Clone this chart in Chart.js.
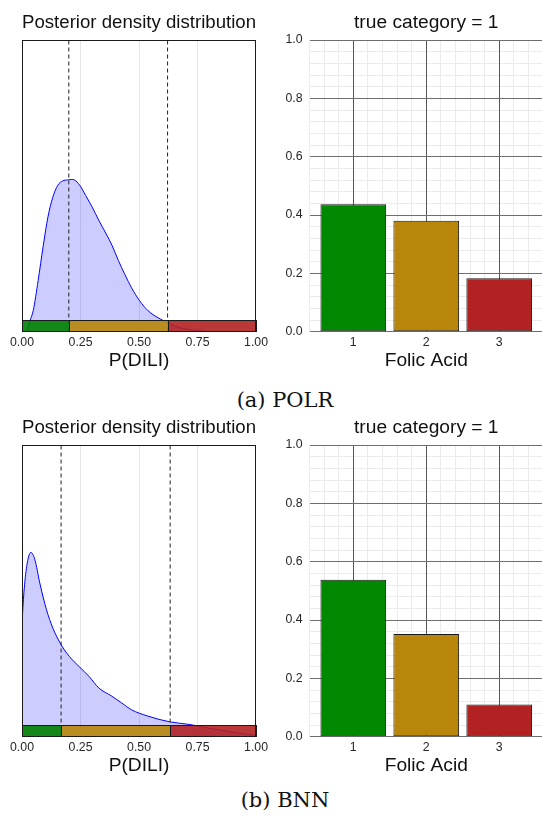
<!DOCTYPE html>
<html>
<head>
<meta charset="utf-8">
<script src="https://cdn.jsdelivr.net/npm/chart.js@4/dist/chart.umd.min.js"></script>
<style>
  html, body { margin: 0; padding: 0; background: #fff; width: 542px; height: 818px; overflow: hidden; }
  .panel { position: absolute; }
  .panel canvas { display: block; }
  .cap {
    position: absolute; left: 285px; transform: translateX(-50%);
    white-space: nowrap; font-family: "DejaVu Serif", serif; font-size: 21px;
    line-height: 24px; color: #111;
  }
</style>
</head>
<body>
<div class="panel" style="left:0;top:0"><canvas id="densPolr" width="272" height="380"></canvas></div>
<div class="panel" style="left:271px;top:0"><canvas id="probPolr" width="272" height="380"></canvas></div>
<div class="cap" style="top:388px">(a) POLR</div>
<div class="panel" style="left:0;top:405px"><canvas id="densBnn" width="272" height="380"></canvas></div>
<div class="panel" style="left:271px;top:405px"><canvas id="probBnn" width="272" height="380"></canvas></div>
<div class="cap" style="top:788px">(b) BNN</div>

<script>
// ---- data ----
const scoreTicks = [0, 0.25, 0.5, 0.75, 1];
const probTicks = [0, 0.2, 0.4, 0.6, 0.8, 1.0];
const categories = ['1', '2', '3'];
const drugName = 'Folic Acid';
const trueCategory = 1;

// POLR posterior density of P(DILI)
const polrX = [0.020, 0.034, 0.048, 0.069, 0.090, 0.111, 0.132, 0.153, 0.174, 0.195, 0.213, 0.230,
               0.251, 0.272, 0.300, 0.328, 0.363, 0.384, 0.412, 0.440, 0.468, 0.503, 0.538, 0.590,
               0.650, 0.700, 0.750, 0.800];
const polrY = [0.00, 0.22, 0.43, 1.05, 1.74, 2.36, 2.77, 3.01, 3.10, 3.12, 3.13, 3.10,
               2.98, 2.80, 2.56, 2.29, 1.98, 1.78, 1.46, 1.17, 0.90, 0.63, 0.43, 0.26,
               0.12, 0.05, 0.02, 0.00];
const polrCuts = [0.200, 0.622];
const polrProbs = [0.437, 0.380, 0.183];

// BNN posterior density of P(DILI)
const bnnX = [0.000, 0.008, 0.020, 0.038, 0.055, 0.076, 0.104, 0.132, 0.167, 0.202, 0.244, 0.286,
              0.328, 0.384, 0.426, 0.468, 0.538, 0.633, 0.713, 0.800, 0.900, 1.000];
const bnnY = [2.34, 2.95, 3.50, 3.79, 3.64, 3.16, 2.62, 2.23, 1.89, 1.65, 1.44, 1.24,
              1.00, 0.83, 0.69, 0.55, 0.42, 0.30, 0.25, 0.17, 0.09, 0.02];
const bnnCuts = [0.167, 0.633];
const bnnProbs = [0.538, 0.352, 0.110];

// ---- styling ----
const FONT = 'Liberation Sans, Arial, sans-serif';
const TITLE_SIZE = 19.2;
const INK = '#111111';
const TICK_INK = '#262626';
const DENS_MAX = 6;
const BAND_H = 11.5;
const BAND_COLORS = ['rgba(0,128,0,0.9)', 'rgba(184,134,11,0.9)', 'rgba(178,34,34,0.9)'];
const BAR_COLORS = ['#008800', '#B8860B', '#B22222'];

// coloured risk band along the bottom of the density panel, plus panel frame
const riskBand = {
  id: 'riskBand',
  afterDatasetsDraw(chart, args, opts) {
    const { ctx, chartArea: a, scales: { x } } = chart;
    const b = opts.bounds;
    if (!b) return;
    ctx.save();
    ctx.lineWidth = 1;
    ctx.strokeStyle = '#1a1a1a';
    for (let i = 0; i < b.length - 1; i++) {
      const x0 = Math.round(x.getPixelForValue(b[i])) + 0.5;
      const x1 = Math.round(x.getPixelForValue(b[i + 1])) + 0.5;
      const y0 = Math.round(a.bottom - BAND_H) + 0.5;
      const y1 = Math.round(a.bottom) - 0.5;
      ctx.fillStyle = BAND_COLORS[i];
      ctx.fillRect(x0, y0, x1 - x0, y1 - y0);
      ctx.strokeRect(x0, y0, x1 - x0, y1 - y0);
    }
    const l = Math.round(a.left) + 0.5, t = Math.round(a.top) + 0.5;
    const r = Math.round(a.right) - 0.5, bt = Math.round(a.bottom) - 0.5;
    ctx.strokeRect(l, t, r - l, bt - t);
    ctx.restore();
  }
};

function titleOpts(text) {
  return {
    display: true, text, fullSize: false, color: INK,
    font: { family: FONT, size: TITLE_SIZE, weight: 'normal', lineHeight: 1.2 },
    padding: { top: 11.5, bottom: 5.46 }
  };
}

function densityChart(id, xs, ys, cuts) {
  const pts = xs.map((x, i) => ({ x, y: ys[i] }));
  const datasets = [{
    type: 'line', data: pts, order: 1,
    fill: 'origin', backgroundColor: 'rgba(0,0,255,0.2)',
    borderColor: '#0000ff', borderWidth: 1,
    pointRadius: 0, cubicInterpolationMode: 'monotone'
  }];
  cuts.forEach(c => datasets.push({
    type: 'line', order: 0,
    data: [{ x: c, y: 0 }, { x: c, y: DENS_MAX }],
    borderColor: '#222222', borderWidth: 1, borderDash: [4, 3],
    pointRadius: 0, fill: false
  }));
  return new Chart(document.getElementById(id), {
    type: 'line',
    data: { datasets },
    options: {
      responsive: false, animation: false, events: [],
      layout: { padding: { left: 22, right: 12, top: 0, bottom: 0 } },
      plugins: {
        legend: { display: false }, tooltip: { enabled: false },
        title: titleOpts('Posterior density distribution'),
        riskBand: { bounds: [0, ...cuts, 1] }
      },
      scales: {
        x: {
          type: 'linear', min: 0, max: 1,
          afterBuildTicks: s => { s.ticks = scoreTicks.map(v => ({ value: v })); },
          afterFit: s => { s.height = 48.5; },
          ticks: { callback: v => Number(v).toFixed(2), color: TICK_INK, padding: 4,
                   font: { family: FONT, size: 12.3 }, maxRotation: 0, autoSkip: false },
          grid: { drawTicks: false, lineWidth: 1, offset: false,
                  color: c => (c.tick && (c.tick.value === 0 || c.tick.value === 1)) ? 'rgba(0,0,0,0)' : '#e6e6e6' },
          border: { display: false },
          title: { display: true, text: 'P(DILI)', color: INK,
                   font: { family: FONT, size: TITLE_SIZE, lineHeight: 1.2 },
                   padding: { top: 0, bottom: 7.8 } }
        },
        y: { type: 'linear', min: 0, max: DENS_MAX, display: false }
      }
    },
    plugins: [riskBand]
  });
}

function probChart(id, probs) {
  const majorX = categories.map((c, i) => i + 1);
  const minorX = [];
  for (let k = 0; k <= 16; k++) minorX.push(+(0.4 + k * 0.2).toFixed(2));
  const minorY = [];
  for (let k = 0; k <= 25; k++) minorY.push(+(k * 0.04).toFixed(2));
  return new Chart(document.getElementById(id), {
    type: 'bar',
    data: {
      datasets: [{
        data: probs.map((p, i) => ({ x: majorX[i], y: p })),
        backgroundColor: BAR_COLORS, borderColor: '#1a1a1a', borderWidth: 1,
        borderSkipped: false, barPercentage: 0.9, categoryPercentage: 1.0
      }]
    },
    options: {
      responsive: false, animation: false, events: [],
      layout: { padding: 0 },
      plugins: {
        legend: { display: false }, tooltip: { enabled: false },
        title: titleOpts('true category = ' + trueCategory)
      },
      scales: {
        x: {
          type: 'linear', min: 0.4, max: 3.6, offset: false,
          afterBuildTicks: s => { s.ticks = majorX.map(v => ({ value: v })); },
          afterFit: s => { s.height = 48.3; },
          ticks: { callback: v => categories[Math.round(v) - 1], color: TICK_INK, padding: 4,
                   font: { family: FONT, size: 12.3 }, maxRotation: 0, autoSkip: false },
          grid: { drawTicks: false, color: '#555555', lineWidth: 1, offset: false, z: -1 },
          border: { display: false }
          ,
          title: { display: true, text: drugName, color: INK,
                   font: { family: FONT, size: TITLE_SIZE, lineHeight: 1.2 },
                   padding: { top: 0, bottom: 8.1 } }
        },
        xMinor: {
          type: 'linear', min: 0.4, max: 3.6, position: 'bottom', offset: false,
          afterBuildTicks: s => { s.ticks = minorX.map(v => ({ value: v })); },
          afterFit: s => { s.height = 0; },
          ticks: { display: false },
          grid: { drawTicks: false, color: '#ebebeb', lineWidth: 1, offset: false, z: -2 },
          border: { display: false }
        },
        y: {
          type: 'linear', min: 0, max: 1,
          afterBuildTicks: s => { s.ticks = probTicks.map(v => ({ value: v })); },
          afterFit: s => { s.width = 38.5; },
          ticks: { callback: v => Number(v).toFixed(1), color: TICK_INK, padding: 7,
                   font: { family: FONT, size: 12.3 } },
          grid: { drawTicks: false, color: '#6e6e6e', lineWidth: 1, z: -1 },
          border: { display: false }
        },
        yMinor: {
          type: 'linear', min: 0, max: 1, position: 'left',
          afterBuildTicks: s => { s.ticks = minorY.map(v => ({ value: v })); },
          afterFit: s => { s.width = 0; },
          ticks: { display: false },
          grid: { drawTicks: false, color: '#ebebeb', lineWidth: 1, z: -2 },
          border: { display: false }
        }
      }
    }
  });
}

densityChart('densPolr', polrX, polrY, polrCuts);
probChart('probPolr', polrProbs);
densityChart('densBnn', bnnX, bnnY, bnnCuts);
probChart('probBnn', bnnProbs);
</script>
</body>
</html>
